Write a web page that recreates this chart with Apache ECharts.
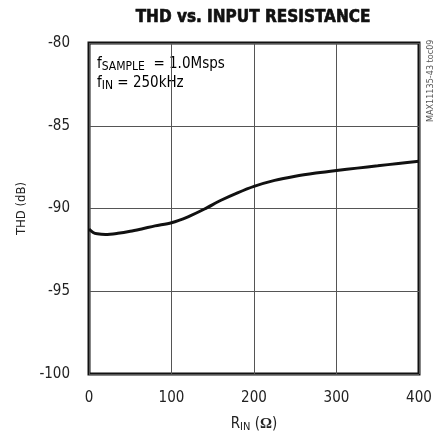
<!DOCTYPE html>
<html><head><meta charset="utf-8">
<script src="https://cdn.jsdelivr.net/npm/echarts@6/dist/echarts.min.js"></script>
<style>html,body{margin:0;padding:0;background:#fff}#c{width:445px;height:438px}</style>
</head><body><div id="c"></div>
<script>
const rIn = [0, 5, 10, 20, 35, 50, 65, 80, 100, 120, 140, 160, 180, 200, 225, 250, 275, 300, 325, 350, 375, 400];
const thd = [-91.25, -91.45, -91.53, -91.57, -91.5, -91.38, -91.22, -91.05, -90.86, -90.5, -90.03, -89.5, -89.05, -88.66, -88.3, -88.05, -87.86, -87.7, -87.56, -87.42, -87.28, -87.15];
const xTicks = [0, 100, 200, 300, 400];
const yTicks = [-100, -95, -90, -85, -80];
const FONT = '"Liberation Sans Narrow","DejaVu Sans Condensed","Liberation Sans",sans-serif';
const chart = echarts.init(document.getElementById('c'));
chart.setOption({
  animation: false,
  grid: {left: 89, right: 26, top: 43, bottom: 63, show: true, borderColor: '#111', borderWidth: 3, backgroundColor: 'transparent'},
  xAxis: {type: 'value', min: xTicks[0], max: xTicks[xTicks.length-1], interval: 100,
    axisLine: {show: false}, axisTick: {show: false},
    splitLine: {show: true, lineStyle: {color: '#555', width: 1}},
    axisLabel: {margin: 17, fontFamily: FONT, fontSize: 15, color: '#222'},
    name: '{a|R}{s|IN}{a| (}{b|Ω}{a|)}', nameLocation: 'middle', nameGap: 42,
    nameTextStyle: {rich: {a: {fontFamily: FONT, fontSize: 15, color: '#222'},
      s: {fontFamily: FONT, fontSize: 11, color: '#222', padding: [6,0,0,0]},
      b: {fontFamily: '"Liberation Serif",serif', fontSize: 15, fontWeight: 'bold', color: '#222'}}}},
  yAxis: {type: 'value', min: yTicks[0], max: yTicks[yTicks.length-1], interval: 5,
    axisLine: {show: false}, axisTick: {show: false},
    splitLine: {show: true, lineStyle: {color: '#555', width: 1}},
    axisLabel: {margin: 19, fontFamily: FONT, fontSize: 15, color: '#222'},
    name: 'THD (dB)', nameLocation: 'middle', nameGap: 49,
    nameTextStyle: {fontFamily: FONT, fontSize: 13, color: '#222'}},
  series: [{type: 'line', data: rIn.map((x, i) => [x, thd[i]]), smooth: 0.3, symbol: 'none',
    lineStyle: {color: '#111', width: 3}}],
  graphic: [
    {type: 'text', x: 253, y: 18, style: {text: 'THD vs. INPUT RESISTANCE', fontFamily: FONT,
      fontWeight: 'bold', fontSize: 17, fill: '#111', textAlign: 'center', textVerticalAlign: 'middle',
      stroke: '#111', lineWidth: 0.6}},
    {type: 'text', left: 97, top: 56, style: {
      text: '{a|f}{s|SAMPLE}{a|  = 1.0Msps}\n{a|f}{s|IN}{a| = 250kHz}',
      rich: {a: {fontFamily: FONT, fontSize: 15, color: '#222', lineHeight: 19},
        s: {fontFamily: FONT, fontSize: 12, color: '#222', padding: [5,0,0,0], lineHeight: 19}}}},
    {type: 'text', x: 431, y: 122, rotation: Math.PI/2, style: {
      text: 'MAX11135-43 toc09', fontFamily: FONT, fontSize: 9, fill: '#555',
      textAlign: 'left', textVerticalAlign: 'middle'}}
  ]
});
</script></body></html>
